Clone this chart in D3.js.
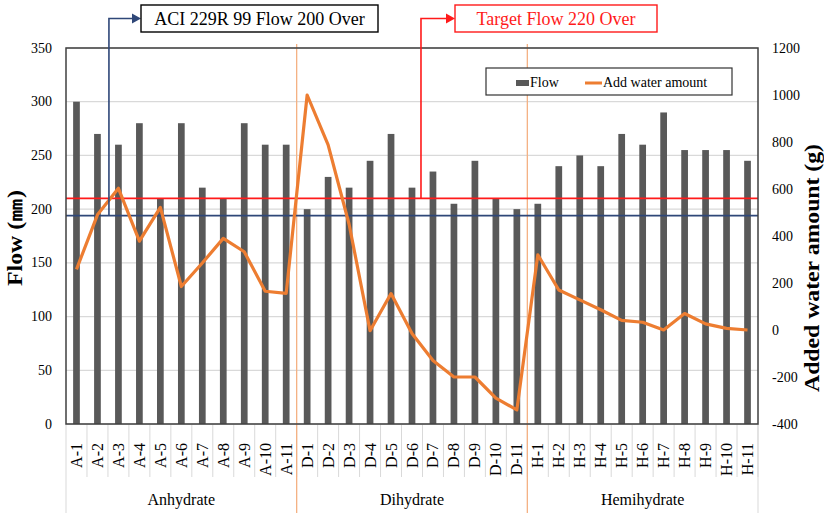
<!DOCTYPE html>
<html>
<head>
<meta charset="utf-8">
<script src="https://cdn.jsdelivr.net/npm/d3@7"></script>
<style>
  body { margin: 0; background: #fff; }
  text { font-family: "Liberation Serif", "Times New Roman", serif; fill: #000; }
</style>
</head>
<body>
<svg width="824" height="513"></svg>
<script>
// ---- data ----
var groups = ["Anhydrate", "Dihydrate", "Hemihydrate"];
var prefixes = ["A", "D", "H"];
var categories = [
  "A-1","A-2","A-3","A-4","A-5","A-6","A-7","A-8","A-9","A-10","A-11",
  "D-1","D-2","D-3","D-4","D-5","D-6","D-7","D-8","D-9","D-10","D-11",
  "H-1","H-2","H-3","H-4","H-5","H-6","H-7","H-8","H-9","H-10","H-11"
];
var flow = [300,270,260,280,210,280,220,210,280,260,260,
            200,230,220,245,270,220,235,205,245,210,200,
            205,240,250,240,270,260,290,255,255,255,245];
var water = [258,490,603,378,522,185,285,390,333,165,156,
             1000,788,450,-3,155,-15,-130,-200,-200,-290,-340,
             320,170,128,86,41,33,0,70,26,7,0];
var leftTicks = [0,50,100,150,200,250,300,350];
var rightTicks = [-400,-200,0,200,400,600,800,1000,1200];
var aciFlow = 194;      // blue reference line
var targetFlow = 210;   // red reference line

var svg = d3.select("svg");
var pLeft = 66, pRight = 758, pTop = 48, pBottom = 424;

var x = d3.scaleBand().domain(categories).range([pLeft, pRight]);
var y = d3.scaleLinear().domain([0, 350]).range([pBottom, pTop]);
var y2 = d3.scaleLinear().domain([-400, 1200]).range([pBottom, pTop]);

// gridlines
svg.append("g").selectAll("line").data(leftTicks).enter().append("line")
  .attr("x1", pLeft).attr("x2", pRight)
  .attr("y1", function(d){ return y(d); }).attr("y2", function(d){ return y(d); })
  .attr("stroke", "#d9d9d9").attr("stroke-width", 1.3);

// bars
var bw = x.bandwidth() * 0.32;
svg.append("g").selectAll("rect").data(categories).enter().append("rect")
  .attr("x", function(d){ return x(d) + x.bandwidth()/2 - bw/2; })
  .attr("y", function(d, i){ return y(flow[i]); })
  .attr("width", bw)
  .attr("height", function(d, i){ return pBottom - y(flow[i]); })
  .attr("fill", "#595959");

// category separators below axis
svg.append("g").selectAll("line").data(categories).enter().append("line")
  .attr("x1", function(d){ return x(d) + x.bandwidth(); })
  .attr("x2", function(d){ return x(d) + x.bandwidth(); })
  .attr("y1", pBottom).attr("y2", 477)
  .attr("stroke", "#d9d9d9").attr("stroke-width", 1);
[pLeft, pRight].forEach(function(px){
  svg.append("line").attr("x1", px).attr("x2", px).attr("y1", pBottom).attr("y2", 513)
    .attr("stroke", "#d9d9d9").attr("stroke-width", 1);
});

// group separators (orange)
[prefixes[1] + "-1", prefixes[2] + "-1"].forEach(function(c){
  svg.append("line").attr("x1", x(c)).attr("x2", x(c)).attr("y1", 44).attr("y2", 513)
    .attr("stroke", "#f4b183").attr("stroke-width", 1.3);
});

// reference lines
svg.append("line").attr("x1", pLeft).attr("x2", pRight)
  .attr("y1", y(targetFlow)).attr("y2", y(targetFlow))
  .attr("stroke", "#ff1a1a").attr("stroke-width", 1.6);
svg.append("line").attr("x1", pLeft).attr("x2", pRight)
  .attr("y1", y(aciFlow)).attr("y2", y(aciFlow))
  .attr("stroke", "#2f4778").attr("stroke-width", 1.6);

// water line
var line = d3.line()
  .x(function(d, i){ return x(categories[i]) + x.bandwidth()/2; })
  .y(function(d){ return y2(d); });
svg.append("path").attr("d", line(water))
  .attr("fill", "none").attr("stroke", "#ed7d31").attr("stroke-width", 3.2)
  .attr("stroke-linejoin", "round");

// frame
svg.append("rect").attr("x", pLeft).attr("y", pTop)
  .attr("width", pRight - pLeft).attr("height", pBottom - pTop)
  .attr("fill", "none").attr("stroke", "#404040").attr("stroke-width", 1.5);

// left ticks
svg.append("g").selectAll("text").data(leftTicks).enter().append("text")
  .attr("x", 52).attr("y", function(d){ return y(d); })
  .attr("text-anchor", "end").attr("dominant-baseline", "central")
  .style("font-size", "14px").text(function(d){ return d; });
// right ticks
svg.append("g").selectAll("text").data(rightTicks).enter().append("text")
  .attr("x", 772).attr("y", function(d){ return y2(d); })
  .attr("text-anchor", "start").attr("dominant-baseline", "central")
  .style("font-size", "14px").text(function(d){ return d; });

// category labels
svg.append("g").selectAll("text").data(categories).enter().append("text")
  .attr("transform", function(d){ return "translate(" + [x(d) + x.bandwidth()/2 + 5.5, 443] + ") rotate(-90)"; })
  .attr("text-anchor", "end")
  .style("font-size", "16px").text(function(d){ return d; });

// group labels
groups.forEach(function(g, gi){
  var first = x(prefixes[gi] + "-1"), last = x(prefixes[gi] + "-11") + x.bandwidth();
  svg.append("text").attr("x", (first + last)/2).attr("y", 505)
    .attr("text-anchor", "middle").style("font-size", "16px").text(g);
});

// axis titles
svg.append("text").attr("transform", "translate(" + [22, 238] + ") rotate(-90)")
  .attr("text-anchor", "middle").style("font-size", "21px").style("font-weight", "bold")
  .attr("textLength", 96).attr("lengthAdjust", "spacingAndGlyphs")
  .text("Flow (\u339C)");
svg.append("text").attr("transform", "translate(" + [819, 268] + ") rotate(-90)")
  .attr("text-anchor", "middle").style("font-size", "21px").style("font-weight", "bold")
  .attr("textLength", 248).attr("lengthAdjust", "spacingAndGlyphs")
  .text("Added water amount (g)");

// legend
var lg = svg.append("g");
lg.append("rect").attr("x", 486).attr("y", 68).attr("width", 246).attr("height", 27)
  .attr("fill", "#fff").attr("stroke", "#333").attr("stroke-width", 1.2);
lg.append("rect").attr("x", 516).attr("y", 80).attr("width", 13).attr("height", 6).attr("fill", "#595959");
lg.append("text").attr("x", 530).attr("y", 87).style("font-size", "14px").text("Flow");
lg.append("line").attr("x1", 585).attr("x2", 602).attr("y1", 83).attr("y2", 83)
  .attr("stroke", "#ed7d31").attr("stroke-width", 3);
lg.append("text").attr("x", 603).attr("y", 87).style("font-size", "14px").text("Add water amount");

// annotations
function callout(px, lineY, boxX, boxW, color, textColor, label){
  svg.append("path")
    .attr("d", "M" + px + "," + lineY + "V18.5H" + (boxX - 7))
    .attr("fill", "none").attr("stroke", color).attr("stroke-width", 1.6);
  svg.append("path")
    .attr("d", "M" + (boxX - 9) + ",13.5L" + boxX + ",18.5L" + (boxX - 9) + ",23.5Z")
    .attr("fill", color);
  svg.append("rect").attr("x", boxX).attr("y", 5).attr("width", boxW).attr("height", 27)
    .attr("fill", "#fff").attr("stroke", textColor === "#000" ? "#000" : color).attr("stroke-width", 1.4);
  svg.append("text").attr("x", boxX + boxW/2).attr("y", 25)
    .attr("text-anchor", "middle").style("font-size", "18px").style("fill", textColor)
    .text(label);
}
callout(x("A-3") + 1, y(aciFlow), 141, 237, "#2f4778", "#000", "ACI 229R 99 Flow 200 Over");
callout(x("D-7") - 1.5, y(targetFlow), 455, 202, "#ff1a1a", "#ff1a1a", "Target Flow 220 Over");
</script>
</body>
</html>
